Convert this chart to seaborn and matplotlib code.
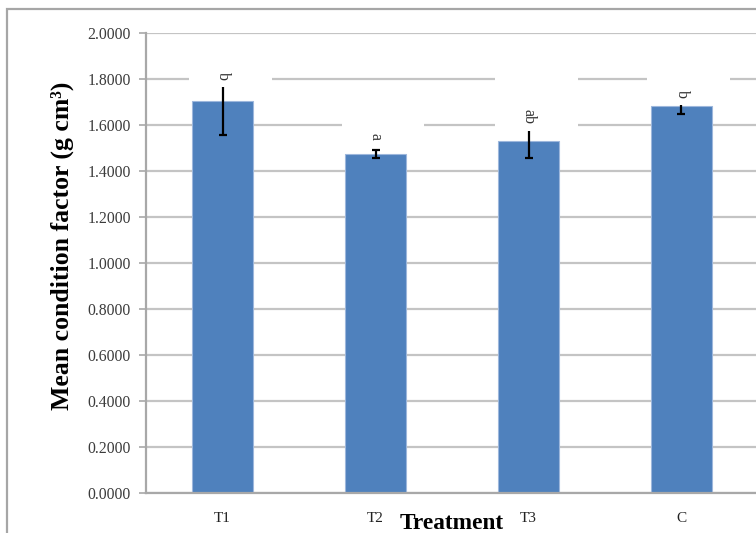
import matplotlib
matplotlib.use("Agg")
import matplotlib.pyplot as plt
from matplotlib.patches import Rectangle
import seaborn as sns
import pandas as pd

# Mean condition factor per treatment, with standard error
treatments = ["T1", "T2", "T3", "C"]
means = [1.704, 1.474, 1.530, 1.683]
errors = [0.147, 0.017, 0.073, 0.035]
letters = ["b", "a", "ab", "b"]
y_ticks = [0.0, 0.2, 0.4, 0.6, 0.8, 1.0, 1.2, 1.4, 1.6, 1.8, 2.0]

# height of each significance letter (centre of the text)
letter_heights = [1.813, 1.548, 1.639, 1.735]

df = pd.DataFrame({"Treatment": treatments, "Mean": means})

sns.set_theme(style="white")
plt.rcParams["font.family"] = ["Liberation Serif", "DejaVu Serif"]

W, H = 756, 533
fig = plt.figure(figsize=(W / 100, H / 100), dpi=100)
fig.patch.set_facecolor("white")

# axes box in pixels: left 146, right 758, bottom 493, top 33
ax = fig.add_axes([146 / W, 1 - 493 / H, (758 - 146) / W, (493 - 33) / H])

grid_c = "#c4c4c4"
axis_c = "#a8a8a8"

sns.barplot(data=df, x="Treatment", y="Mean", order=treatments, ax=ax,
            color="#4f81bd", saturation=1, width=0.4, errorbar=None,
            edgecolor="#9db7dc", linewidth=0.8, zorder=2)

ax.errorbar(range(len(treatments)), means, yerr=errors, fmt="none",
            ecolor="black", elinewidth=1.6, capsize=3.2, capthick=1.6,
            zorder=2.2)

ax.set_ylim(0, 2.0)
ax.set_xlim(-0.5, len(treatments) - 0.5)
ax.set_yticks(y_ticks)
ax.set_yticklabels([f"{v:.4f}" for v in y_ticks], fontsize=11.3, color="#3c3c3c")
ax.yaxis.grid(True, color=grid_c, linewidth=1.6, zorder=0)
ax.xaxis.grid(False)
ax.set_axisbelow(True)

# category labels at centres, tick marks on the boundaries
ax.set_xticks(range(len(treatments)))
ax.set_xticklabels(treatments, fontsize=11, color="#222222")
ax.set_xticks([i + 0.5 for i in range(-1, len(treatments) - 1)], minor=True)
ax.tick_params(axis="x", which="major", length=0, pad=14)
ax.tick_params(axis="x", which="minor", length=5, width=1.2, color=axis_c,
               direction="out")
ax.tick_params(axis="y", which="major", length=5, width=1.2, color=axis_c,
               direction="out", pad=6, left=True)

for side in ["top", "right"]:
    ax.spines[side].set_visible(False)
for side in ["left", "bottom"]:
    ax.spines[side].set_color(axis_c)
    ax.spines[side].set_linewidth(1.6)

ax.set_xlabel("Treatment", fontsize=16.8, fontweight="bold", color="black",
              labelpad=-9)
ax.set_ylabel("Mean condition factor (g cm\u00b3)", fontsize=18.5,
              fontweight="bold", color="black")
ax.yaxis.set_label_coords(-0.118, 0.537)

# significance letters, each sitting in a white text box
fig.canvas.draw()
renderer = fig.canvas.get_renderer()
inv = ax.transData.inverted()
for i, (lab, yc) in enumerate(zip(letters, letter_heights)):
    t = ax.text(i, yc, lab, rotation=-90, ha="center", va="center",
                fontsize=11.5, color="#333333", zorder=5)
    bb = t.get_window_extent(renderer)
    x0d, _ = ax.transData.transform((i, 0))
    (bx0, by0) = inv.transform((x0d - 34, bb.y0 - 7))
    (bx1, by1) = inv.transform((x0d + 49, bb.y1 + 34))
    ax.add_patch(Rectangle((bx0, by0), bx1 - bx0, by1 - by0,
                           facecolor="white", edgecolor="none", zorder=2.5))

# outer chart-area border
fig.add_artist(Rectangle((7 / W, -0.2), 1.2, 1.2 - 9 / H,
                         transform=fig.transFigure, fill=False,
                         edgecolor="#a6a6a6", linewidth=1.6))

fig.savefig("out.png", dpi=100, facecolor="white")
